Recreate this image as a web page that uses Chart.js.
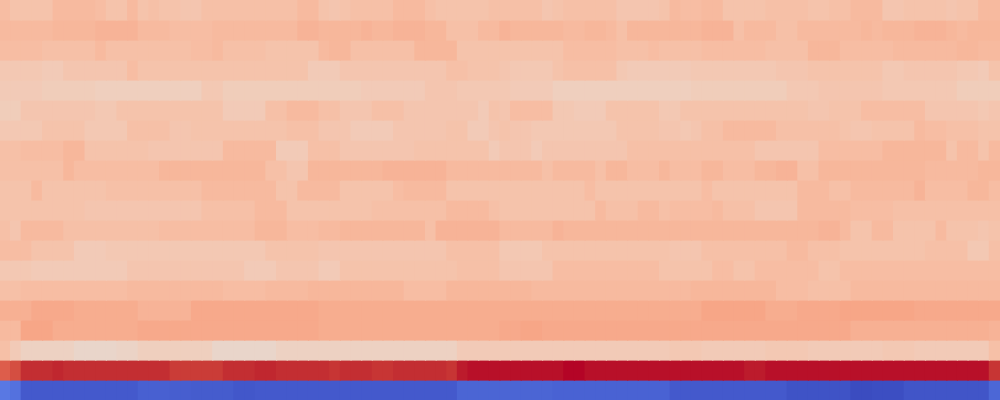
<!DOCTYPE html>
<html>
<head>
<meta charset="utf-8">
<script src="https://cdn.jsdelivr.net/npm/chart.js@4"></script>
<style>
html,body{margin:0;padding:0;overflow:hidden;background:#ffffff;}
#wrap{width:1000px;height:400px;}
</style>
</head>
<body>
<div id="wrap"><canvas id="c" width="1000" height="400"></canvas></div>
<script>
// values per row (0-100 scale), top row first
const row00 = [65,63,63,63,63,66,66,66,66,65,63,63,66,63,64,63,63,62,62,64,64,64,64,64,64,64,64,64,66,66,63,62,63,64,64,64,64,66,66,66,64,63,63,63,63,63,64,
64,64,64,64,62,63,64,64,64,64,64,62,62,62,62,63,66,65,65,66,66,63,63,63,63,64,64,64,64,63,63,64,64,66,66,66,62,62,63,63,63,63,62,63,63,66,66];
const row01 = [66,66,66,66,66,67,67,67,67,68,68,68,68,66,66,66,65,65,65,65,66,66,66,66,66,66,66,66,68,68,67,67,67,67,68,67,67,68,68,68,67,67,64,64,64,66,66,
68,67,67,67,67,67,66,66,67,67,66,64,67,67,67,67,67,67,67,68,68,68,64,66,66,66,64,64,66,66,66,66,66,66,67,66,67,67,67,68,68,68,67,66,67,67,67];
const row02 = [65,65,65,65,64,64,64,64,64,66,64,64,64,64,64,64,64,64,65,65,66,64,64,64,64,63,63,63,63,63,66,67,67,64,64,64,64,64,64,67,67,67,67,63,63,63,63,
63,63,63,63,63,63,65,65,65,65,65,64,64,64,65,64,64,64,64,65,65,65,65,65,65,64,64,64,64,67,67,67,65,65,65,65,65,66,66,66,66,66,66,67,67,66,66];
const row03 = [61,61,61,61,60,60,62,62,62,62,62,62,65,63,63,63,63,63,63,63,63,63,63,63,63,63,63,63,63,60,60,60,62,62,62,62,62,62,62,62,62,62,64,64,63,63,63,
62,61,61,61,61,63,64,64,64,64,64,61,60,60,60,60,60,60,61,61,61,61,61,61,61,61,62,62,62,63,63,63,63,63,63,63,61,61,62,62,62,62,62,61,61,60,63];
const row04 = [60,60,60,60,59,59,59,59,59,58,58,58,58,58,58,58,58,58,58,61,61,59,59,59,59,59,59,59,59,59,59,59,59,59,60,60,60,60,60,60,62,62,62,61,61,61,61,
61,60,60,60,60,58,58,58,58,58,58,58,58,58,58,58,58,58,59,59,59,59,59,59,59,59,59,61,61,61,62,62,62,62,62,62,61,61,61,61,61,61,61,59,59,59,59];
const row05 = [59,59,62,62,62,62,62,62,62,61,61,63,63,63,63,63,63,63,63,63,63,60,60,60,60,64,64,66,66,66,64,64,62,62,62,64,64,64,62,62,62,62,62,62,62,60,63,
62,65,65,65,65,61,61,60,60,60,63,63,63,63,63,61,61,63,63,63,63,63,63,63,63,63,63,63,63,62,62,63,63,63,65,65,65,65,65,65,62,62,62,62,62,61,62];
const row06 = [61,61,61,61,63,63,63,63,61,61,61,61,64,64,64,64,62,62,63,63,63,63,63,63,63,63,63,64,64,64,62,62,62,60,60,60,60,62,62,62,62,62,63,63,60,60,62,
63,62,62,61,61,61,61,61,61,61,61,63,63,63,63,62,62,61,62,64,64,66,66,66,66,66,64,64,64,64,64,64,63,62,62,63,63,63,63,66,65,65,64,64,64,63,63];
const row07 = [64,64,65,65,65,65,67,67,63,63,63,63,63,63,62,62,62,62,62,62,62,66,66,66,66,66,60,60,60,64,64,64,62,62,62,62,62,62,62,63,63,63,63,63,63,63,60,
62,62,62,60,62,62,62,62,62,62,62,62,64,64,64,64,64,64,64,64,64,64,64,64,62,62,62,62,62,62,65,65,65,65,65,65,67,67,67,67,67,67,63,66,66,63,66];
const row08 = [64,64,64,64,64,64,67,65,65,65,65,65,65,65,65,67,67,67,67,67,67,67,67,67,67,64,64,62,62,67,67,67,67,67,67,67,68,68,68,68,68,68,66,66,66,66,66,
66,66,66,66,64,66,66,66,66,64,67,67,65,65,65,67,65,65,65,67,67,65,65,65,67,67,68,68,64,64,67,67,67,67,67,67,67,67,67,67,66,66,66,66,66,67,67];
const row09 = [63,63,63,66,63,63,63,63,63,63,64,64,64,64,64,64,64,64,64,66,66,66,66,66,66,66,63,63,66,66,66,66,63,63,63,63,63,65,66,66,66,66,63,63,63,63,63,
63,63,63,63,63,63,63,63,65,63,63,63,63,63,63,63,63,63,63,65,63,63,63,63,63,63,63,63,66,66,66,64,64,66,66,66,66,66,66,68,65,65,65,65,67,67,65];
const row10 = [63,63,63,63,63,63,63,63,62,62,62,62,62,62,62,62,62,62,62,64,64,64,64,64,66,66,66,63,63,63,63,63,63,63,63,64,64,64,64,64,64,64,66,66,66,66,64,
63,63,63,63,63,63,63,63,63,66,64,64,64,66,66,64,65,65,65,65,66,64,64,64,62,62,62,62,66,66,66,66,66,65,65,65,65,64,64,64,64,64,64,64,64,64,64];
const row11 = [64,62,66,66,66,66,64,64,64,64,64,64,64,64,64,65,65,65,65,65,65,65,65,65,67,67,67,65,65,65,66,66,67,67,67,67,67,67,67,67,64,68,68,68,68,68,68,
66,66,66,66,66,68,67,67,67,67,67,67,67,67,67,67,67,67,67,67,67,67,67,67,67,67,67,67,67,67,68,68,66,63,63,66,66,63,63,63,63,66,63,63,63,62,63];
const row12 = [65,65,65,63,63,63,63,60,60,60,61,61,61,61,61,61,61,61,61,61,61,61,61,61,61,63,63,63,63,63,62,62,62,62,62,62,62,62,62,62,62,62,64,64,64,64,64,
61,61,61,61,63,63,63,63,63,63,63,63,63,63,63,63,62,62,62,64,64,64,64,64,64,64,64,66,66,64,64,64,63,63,63,63,63,63,63,63,64,64,64,64,61,61,64];
const row13 = [61,61,61,60,60,60,60,60,60,60,60,60,62,62,62,62,62,62,62,62,62,62,62,60,60,60,62,62,62,62,60,60,63,63,63,63,63,63,63,63,63,63,63,64,64,64,64,
62,62,62,62,62,65,65,65,65,65,65,65,65,65,65,63,63,63,63,63,65,65,63,63,65,65,65,65,65,65,63,63,65,65,65,65,65,65,65,65,65,65,65,65,65,65,65];
const row14 = [64,64,65,65,65,65,65,65,65,65,65,65,66,66,66,66,66,66,66,66,66,65,65,65,65,66,66,66,66,67,67,67,67,67,67,67,67,67,65,65,65,65,67,67,67,67,67,
67,67,67,66,66,66,66,66,66,66,66,66,66,66,66,66,66,66,67,67,67,67,67,67,67,67,65,65,65,64,64,64,64,66,66,66,66,66,66,66,66,66,66,66,66,66,66];
const row15 = [69,69,69,71,71,71,71,70,70,70,70,70,70,68,68,68,68,68,71,71,71,71,71,71,71,71,71,71,71,71,70,70,70,70,70,70,70,70,70,70,70,70,70,70,70,70,70,
70,70,70,70,70,70,70,70,70,70,70,70,70,70,70,70,70,70,70,72,72,72,72,72,72,70,70,70,71,71,71,71,72,72,72,72,72,72,72,71,71,71,71,71,71,71,71];
const row16 = [66,66,72,72,72,70,70,70,70,70,70,70,70,71,71,71,71,71,71,71,71,71,71,71,71,71,71,71,71,71,70,70,70,70,70,70,70,70,70,70,70,70,70,70,70,70,70,
71,71,72,72,71,71,71,71,71,71,71,71,71,71,71,71,71,71,71,71,71,71,71,71,71,71,71,71,71,71,71,71,71,69,69,69,69,69,69,69,69,69,69,69,69,69,68];
const row17 = [64,60,57,57,57,57,57,55,55,55,55,56,56,58,58,58,58,58,58,58,55,55,55,55,55,55,57,57,57,57,57,57,57,57,57,57,57,57,57,57,57,57,57,60,60,60,60,
60,60,60,60,60,60,60,60,60,60,60,60,60,60,60,60,61,61,61,60,60,60,60,60,60,61,61,61,61,60,60,60,60,60,60,60,61,61,61,60,60,60,60,60,60,60,64];
const row18 = [88,91,96,96,96,97,96,96,96,96,96,96,96,96,96,96,94,94,94,94,94,96,96,96,97,97,96,96,96,96,96,95,96,96,96,95,95,96,96,96,96,96,95,98,99,99,99,
99,99,99,99,99,99,
100,100,
99,99,99,99,99,99,99,99,99,99,99,99,99,99,99,
98,98,
99,99,99,99,99,99,99,99,99,99,99,99,99,99,99,99,99,99,99,99,99,
95];
const row19 = [10,8.5,3,3,3,3,3,3,3,3,3,3,3,4.5,4.5,4.5,4,4,3.5,3.5,3.5,3.5,2.5,2.5,3,3,3,3,3,3,3,3,3,3,3,3,3,3,3,3,3,3,3,5.5,5.5,5.5,5.5,
5.5,5.5,5.5,5.5,5.5,
5,5,5,5,5,5,5,5,5,5,5,
3,3,3,3,3,3,3,3,3,3,3,
1.5,1.5,1.5,1.5,1.5,1.5,
0,0,
0.5,0.5,0.5,
2,2,2,2,2,2,2,2,
6];

const rows = [row00,row01,row02,row03,row04,row05,row06,row07,row08,row09,
              row10,row11,row12,row13,row14,row15,row16,row17,row18,row19];
const columns = Array.from({length: 94}, (_, i) => String(i + 1));

// coolwarm colour map
const CMAP = [[59,76,192],[68,90,204],[77,104,215],[87,117,225],[98,130,234],[108,142,241],[119,154,247],[130,165,251],
[141,176,254],[152,185,255],[163,194,255],[174,201,253],[184,208,249],[194,213,244],[204,217,238],[213,219,230],
[221,221,221],[229,216,209],[236,211,197],[241,204,185],[245,196,173],[247,187,160],[247,177,148],[247,166,135],
[244,154,123],[241,141,111],[236,127,99],[229,112,88],[222,96,77],[213,80,66],[203,62,56],[192,40,47],[180,4,38]];
function coolwarm(t){
  t = Math.max(0, Math.min(1, t));
  const p = t * (CMAP.length - 1);
  const i = Math.min(CMAP.length - 2, Math.floor(p));
  const f = p - i;
  const a = CMAP[i], b = CMAP[i + 1];
  const c = a.map((v, k) => Math.round(v + (b[k] - v) * f));
  return `rgb(${c[0]},${c[1]},${c[2]})`;
}

const datasets = rows.map((vals, r) => ({
  label: 'row ' + r,
  data: columns.map((_, ci) => (vals[ci] === undefined ? null : [r, r + 1])),
  backgroundColor: vals.map(v => coolwarm(v / 100)),
  borderWidth: 0,
  barPercentage: 1,
  categoryPercentage: 1,
  inflateAmount: 0.6
}));

new Chart(document.getElementById('c'), {
  type: 'bar',
  data: { labels: columns, datasets },
  options: {
    responsive: false,
    animation: false,
    events: [],
    layout: { padding: 0 },
    plugins: { legend: { display: false }, tooltip: { enabled: false } },
    scales: {
      x: { display: false, stacked: true, grid: { display: false } },
      y: { display: false, stacked: false, min: 0, max: 20, reverse: true, grid: { display: false } }
    }
  }
});
</script>
</body>
</html>
